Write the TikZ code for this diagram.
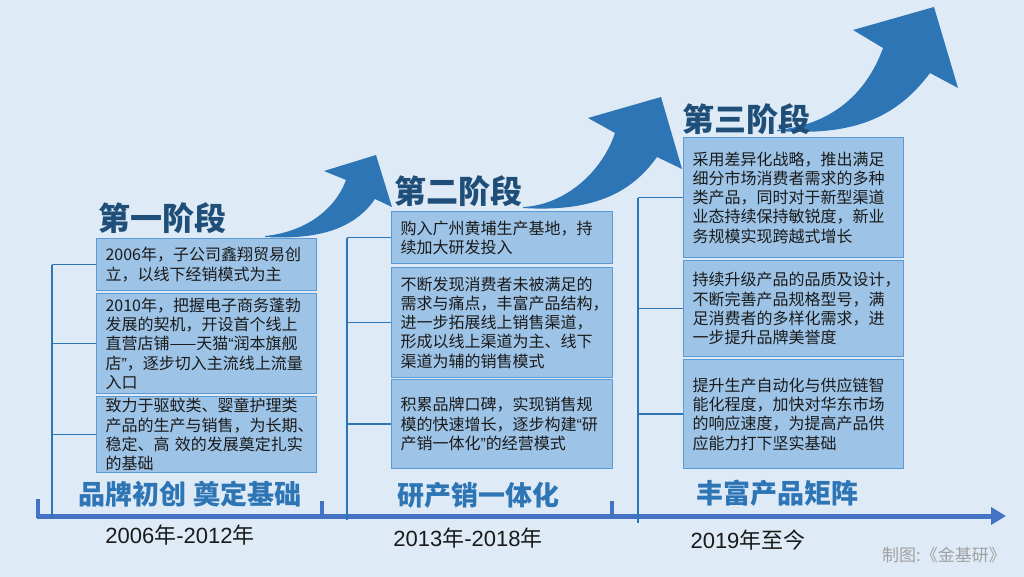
\documentclass[tikz,border=0pt]{standalone}
\usepackage{fontspec}
\setmainfont{Noto Sans CJK SC}
\newfontfamily\lat{Liberation Sans}
\usetikzlibrary{arrows.meta}
\definecolor{bg}{HTML}{DEEBF7}
\definecolor{boxfill}{HTML}{9DC3E6}
\definecolor{boxline}{HTML}{5B9BD5}
\definecolor{arrowc}{HTML}{2E75B6}
\definecolor{titlec}{HTML}{1F4E79}
\definecolor{axisc}{HTML}{4472C4}
\definecolor{textc}{HTML}{1A1A1A}
\definecolor{srcc}{HTML}{A0A0A0}
\newcommand\bxline[1]{\mbox{#1}}
\newcommand\myopenq{{\lat “}}
\newcommand\mycloseq{{\lat ”}}
\tikzset{
  infobox/.style={draw=boxline, line width=1.2pt, fill=boxfill, text=textc,
    inner xsep=9pt, inner ysep=0pt, align=left, anchor=north west,
    font=\fontsize{16}{19.3}\selectfont},
  stagetitle/.style={inner sep=0pt, text=titlec, font=\bfseries\fontsize{32}{36}\selectfont},
  stagelabel/.style={inner sep=0pt, text=arrowc, font=\bfseries\fontsize{27}{30}\selectfont},
  yearlabel/.style={inner sep=0pt, text=textc, font=\fontsize{22}{24}\selectfont},
  conn/.style={draw=arrowc, line width=1.3pt},
  bigarrow/.style={fill=arrowc, draw=none},
  tick/.style={draw=axisc, line width=4pt}
}
\begin{document}
\begin{tikzpicture}[x=1pt,y=-1pt]
\fill[bg] (0,0) rectangle (1024,577);
\useasboundingbox (0,0) rectangle (1024,577);

% big curved arrows
\fill[bigarrow] (265,236) .. controls (305,232) and (335,210) .. (346,180)
  -- (324,171) -- (376,155) -- (392,207) -- (375,199)
  .. controls (355,228) and (320,240) .. (265,237) -- cycle;
\fill[bigarrow] (523,207) .. controls (565,205) and (602,172) .. (615,133)
  -- (588,118) -- (661,97) -- (682,169) -- (657,157)
  .. controls (630,195) and (590,212) .. (523,208) -- cycle;
\fill[bigarrow] (777,130) .. controls (830,125) and (866,95) .. (883,48)
  -- (853,30) -- (934,7) -- (958,88) -- (930,73)
  .. controls (895,120) and (850,136) .. (777,131) -- cycle;

% timeline axis
\draw[axisc, line width=5pt, -{Triangle[length=15pt,width=17pt]}] (37,516) -- (1006,516);
\draw[tick] (38,499) -- (38,518);
\draw[tick] (322,501) -- (322,516);
\draw[tick] (612,501) -- (612,516);

% stage titles
\node[stagetitle] (t1) at (162,218) {第一阶段};
\node[stagetitle] (t2) at (458,191) {第二阶段};
\node[stagetitle] (t3) at (746,119) {第三阶段};

% stage 1 boxes
\node[infobox, text width=202pt, minimum height=52pt] (b1a) at (96,238)
  {\bxline{2006年，子公司鑫翔贸易创}\\\bxline{立，以线下经销模式为主}};
\node[infobox, text width=202pt, minimum height=100pt] (b1b) at (96,293)
  {\bxline{2010年，把握电子商务蓬勃}\\\bxline{发展的契机，开设首个线上}\\\bxline{直营店铺——天猫\myopenq 润本旗舰}\\\bxline{店\mycloseq，逐步切入主流线上流量}\\\bxline{入口}};
\node[infobox, text width=202pt, minimum height=76pt] (b1c) at (96,396)
  {\bxline{致力于驱蚊类、婴童护理类}\\\bxline{产品的生产与销售，为长期、}\\\bxline{稳定、高 效的发展奠定扎实}\\\bxline{的基础}};

% stage 2 boxes
\node[infobox, text width=203pt, minimum height=52pt] (b2a) at (391,211)
  {\bxline{购入广州黄埔生产基地，持}\\\bxline{续加大研发投入}};
\node[infobox, text width=203pt, minimum height=110pt] (b2b) at (391,267)
  {\bxline{不断发现消费者未被满足的}\\\bxline{需求与痛点，丰富产品结构，}\\\bxline{进一步拓展线上销售渠道，}\\\bxline{形成以线上渠道为主、线下}\\\bxline{渠道为辅的销售模式}};
\node[infobox, text width=203pt, minimum height=89pt] (b2c) at (391,379)
  {\bxline{积累品牌口碑，实现销售规}\\\bxline{模的快速增长，逐步构建\myopenq 研}\\\bxline{产销一体化\mycloseq 的经营模式}};

% stage 3 boxes
\node[infobox, text width=202pt, minimum height=120pt] (b3a) at (683,137)
  {\bxline{采用差异化战略，推出满足}\\\bxline{细分市场消费者需求的多种}\\\bxline{类产品，同时对于新型渠道}\\\bxline{业态持续保持敏锐度，新业}\\\bxline{务规模实现跨越式增长}};
\node[infobox, text width=202pt, minimum height=96pt] (b3b) at (683,260)
  {\bxline{持续升级产品的品质及设计，}\\\bxline{不断完善产品规格型号，满}\\\bxline{足消费者的多样化需求，进}\\\bxline{一步提升品牌美誉度}};
\node[infobox, text width=202pt, minimum height=109pt] (b3c) at (683,359)
  {\bxline{提升生产自动化与供应链智}\\\bxline{能化程度，加快对华东市场}\\\bxline{的响应速度，为提高产品供}\\\bxline{应能力打下坚实基础}};

% bracket connectors
\draw[conn] (b1a.west) -- ++(-44,0) coordinate (s1a);
\draw[conn] (b1b.west) -- ++(-44,0) coordinate (s1b);
\draw[conn] (b1c.west) -- ++(-44,0) coordinate (s1c);
\coordinate (e1) at (52,519);
\draw[conn] (s1a) -- (e1);
\draw[conn] (b2a.west) -- ++(-44,0) coordinate (s2a);
\draw[conn] (b2b.west) -- ++(-44,0) coordinate (s2b);
\draw[conn] (b2c.west) -- ++(-44,0) coordinate (s2c);
\coordinate (e2) at (347,520);
\draw[conn] (s2a) -- (e2);
\draw[conn] (b3a.west) -- ++(-45,0) coordinate (s3a);
\draw[conn] (b3b.west) -- ++(-45,0) coordinate (s3b);
\draw[conn] (b3c.west) -- ++(-45,0) coordinate (s3c);
\coordinate (e3) at (638,523);
\draw[conn] (s3a) -- (e3);

% stage labels
\node[stagelabel] (l1) at (190,494) {品牌初创 奠定基础};
\node[stagelabel] (l2) at (478,495) {研产销一体化};
\node[stagelabel] (l3) at (777,493) {丰富产品矩阵};

% year labels
\node[yearlabel] (y1) at (180,535) {{\lat 2006}年{\lat -2012}年};
\node[yearlabel] (y2) at (468,538) {{\lat 2013}年{\lat -2018}年};
\node[yearlabel] (y3) at (748,540) {{\lat 2019}年至今};

% source
\node[inner sep=0pt, text=srcc, font=\fontsize{17}{19}\selectfont] (src) at (944,555) {制图:《金基研》};
\end{tikzpicture}
\end{document}
